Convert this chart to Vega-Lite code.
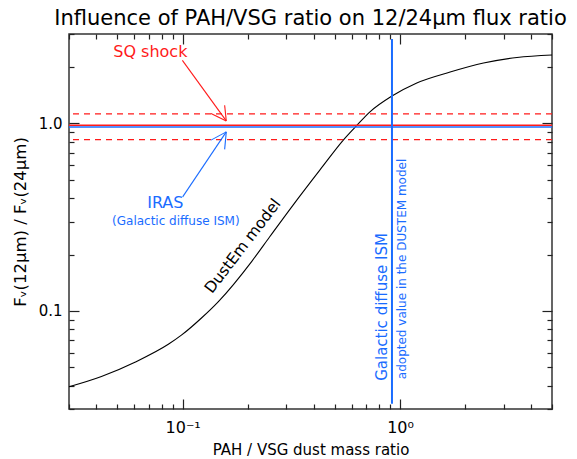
{
  "$schema": "https://vega.github.io/schema/vega-lite/v6.json",
  "width": 483,
  "height": 375,
  "autosize": "none",
  "padding": {"left": 69, "top": 34, "right": 25, "bottom": 50},
  "background": "white",
  "config": {
    "view": {"stroke": "#333", "strokeWidth": 1.5},
    "font": "DejaVu Sans",
    "axis": {"grid": false, "labelColor": "black", "titleColor": "black", "tickColor": "#222", "tickWidth": 1.2, "domain": false, "labelFont": "DejaVu Sans", "titleFont": "DejaVu Sans"}
  },
  "title": {
    "text": "Influence of PAH/VSG ratio on 12/24μm flux ratio",
    "fontSize": 21,
    "fontWeight": "normal",
    "color": "black",
    "anchor": "middle",
    "offset": 4,
    "font": "DejaVu Sans"
  },
  "resolve": {"axis": {"x": "independent", "y": "independent"}},
  "layer": [
    {
      "data": {"values": [
        {"x": 0.03, "y": 0.0394},
        {"x": 0.0423, "y": 0.0447},
        {"x": 0.0603, "y": 0.0533},
        {"x": 0.0859, "y": 0.0664},
        {"x": 0.099, "y": 0.0745},
        {"x": 0.1224, "y": 0.092},
        {"x": 0.146, "y": 0.1122},
        {"x": 0.208, "y": 0.184},
        {"x": 0.251, "y": 0.248},
        {"x": 0.322, "y": 0.367},
        {"x": 0.43, "y": 0.569},
        {"x": 0.547, "y": 0.813},
        {"x": 0.631, "y": 0.973},
        {"x": 0.727, "y": 1.153},
        {"x": 0.918, "y": 1.4},
        {"x": 1.194, "y": 1.644},
        {"x": 1.7, "y": 1.88},
        {"x": 2.42, "y": 2.1},
        {"x": 3.45, "y": 2.25},
        {"x": 5.0, "y": 2.32}
      ]},
      "mark": {"type": "line", "color": "black", "strokeWidth": 1.1, "interpolate": "monotone"},
      "encoding": {
        "x": {"field": "x", "type": "quantitative",
          "scale": {"type": "log", "domain": [0.03, 5], "nice": false},
          "axis": {"orient": "bottom", "values": [0.1, 1], "labelExpr": "datum.value < 0.5 ? '10⁻¹' : '10⁰'", "offset": -10, "tickSize": 10, "labelFontSize": 16, "labelPadding": 10, "labelFlush": false, "title": "PAH / VSG dust mass ratio", "titleFontSize": 15, "titleFontWeight": "normal", "titlePadding": 7}},
        "y": {"field": "y", "type": "quantitative",
          "scale": {"type": "log", "domain": [0.03, 3], "nice": false},
          "axis": {"orient": "left", "values": [0.1, 1], "labelExpr": "datum.value < 0.5 ? '0.1' : '1.0'", "offset": -10, "tickSize": 10, "labelFontSize": 15, "labelPadding": 7, "labelFlush": false, "title": "Fᵥ(12μm) / Fᵥ(24μm)", "titleFontSize": 16.5, "titleFontWeight": "normal", "titlePadding": 10}}
      }
    },
    {
      "data": {"values": [
        {"y": 0.958, "group": "IRAS"},
        {"y": 0.978, "group": "SQ"}
      ]},
      "mark": {"type": "rule", "strokeWidth": 1.5},
      "encoding": {
        "y": {"field": "y", "type": "quantitative", "scale": {"type": "log", "domain": [0.03, 3], "nice": false}, "axis": null},
        "color": {"field": "group", "type": "nominal", "scale": {"domain": ["SQ", "IRAS", "model"], "range": ["#ff1a1a", "#1a6cff", "black"]}, "legend": null}
      }
    },
    {
      "data": {"values": [
        {"y": 1.125, "group": "SQ"},
        {"y": 0.82, "group": "SQ"}
      ]},
      "mark": {"type": "rule", "strokeWidth": 1.3, "strokeDash": [6, 5]},
      "encoding": {
        "y": {"field": "y", "type": "quantitative", "scale": {"type": "log", "domain": [0.03, 3], "nice": false}, "axis": null},
        "color": {"field": "group", "type": "nominal", "scale": {"domain": ["SQ", "IRAS", "model"], "range": ["#ff1a1a", "#1a6cff", "black"]}, "legend": null}
      }
    },
    {
      "data": {"values": [
        {"x": 0.918, "y": 0.032, "y2": 2.82}
      ]},
      "mark": {"type": "rule", "strokeWidth": 2, "color": "#1a6cff"},
      "encoding": {
        "x": {"field": "x", "type": "quantitative", "scale": {"type": "log", "domain": [0.03, 5], "nice": false},
          "axis": {"orient": "bottom", "values": [0.03, 0.04, 0.05, 0.06, 0.07, 0.08, 0.09, 0.2, 0.3, 0.4, 0.5, 0.6, 0.7, 0.8, 0.9, 2, 3, 4, 5], "labels": false, "offset": -5, "tickSize": 5, "title": null}},
        "y": {"field": "y", "type": "quantitative", "scale": {"type": "log", "domain": [0.03, 3], "nice": false},
          "axis": {"orient": "left", "values": [0.03, 0.04, 0.05, 0.06, 0.07, 0.08, 0.09, 0.2, 0.3, 0.4, 0.5, 0.6, 0.7, 0.8, 0.9, 2, 3], "labels": false, "offset": -5, "tickSize": 5, "title": null}},
        "y2": {"field": "y2"}
      }
    },
    {
      "data": {"values": [
        {"x": 0.0997, "y": 2.17, "x2": 0.1587, "y2": 1.032, "group": "SQ"},
        {"x": 0.135, "y": 1.13, "x2": 0.1587, "y2": 1.032, "group": "SQ"},
        {"x": 0.156, "y": 1.25, "x2": 0.1587, "y2": 1.032, "group": "SQ"},
        {"x": 0.1, "y": 0.406, "x2": 0.1587, "y2": 0.902, "group": "IRAS"},
        {"x": 0.135, "y": 0.815, "x2": 0.1587, "y2": 0.902, "group": "IRAS"},
        {"x": 0.156, "y": 0.727, "x2": 0.1587, "y2": 0.902, "group": "IRAS"}
      ]},
      "mark": {"type": "rule", "strokeWidth": 1.1},
      "encoding": {
        "x": {"field": "x", "type": "quantitative", "scale": {"type": "log", "domain": [0.03, 5], "nice": false},
          "axis": {"orient": "top", "values": [0.1, 1], "labels": false, "offset": -10, "tickSize": 10, "title": null}},
        "x2": {"field": "x2"},
        "y": {"field": "y", "type": "quantitative", "scale": {"type": "log", "domain": [0.03, 3], "nice": false},
          "axis": {"orient": "right", "values": [0.1, 1], "labels": false, "offset": -10, "tickSize": 10, "title": null}},
        "y2": {"field": "y2"},
        "color": {"field": "group", "type": "nominal", "scale": {"domain": ["SQ", "IRAS", "model"], "range": ["#ff1a1a", "#1a6cff", "black"]}, "legend": null}
      }
    },
    {
      "data": {"values": [
        {"x": 0.071, "y": 2.4, "label": "SQ shock", "group": "SQ"},
        {"x": 0.0832, "y": 0.375, "label": "IRAS", "group": "IRAS"}
      ]},
      "mark": {"type": "text", "fontSize": 16, "align": "center", "baseline": "middle"},
      "encoding": {
        "x": {"field": "x", "type": "quantitative", "scale": {"type": "log", "domain": [0.03, 5], "nice": false},
          "axis": {"orient": "top", "values": [0.03, 0.04, 0.05, 0.06, 0.07, 0.08, 0.09, 0.2, 0.3, 0.4, 0.5, 0.6, 0.7, 0.8, 0.9, 2, 3, 4, 5], "labels": false, "offset": -5, "tickSize": 5, "title": null}},
        "y": {"field": "y", "type": "quantitative", "scale": {"type": "log", "domain": [0.03, 3], "nice": false},
          "axis": {"orient": "right", "values": [0.03, 0.04, 0.05, 0.06, 0.07, 0.08, 0.09, 0.2, 0.3, 0.4, 0.5, 0.6, 0.7, 0.8, 0.9, 2, 3], "labels": false, "offset": -5, "tickSize": 5, "title": null}},
        "text": {"field": "label"},
        "color": {"field": "group", "type": "nominal", "scale": {"domain": ["SQ", "IRAS", "model"], "range": ["#ff1a1a", "#1a6cff", "black"]}, "legend": null}
      }
    },
    {
      "data": {"values": [
        {"x": 0.093, "y": 0.302, "label": "(Galactic diffuse ISM)", "group": "IRAS"}
      ]},
      "mark": {"type": "text", "fontSize": 12, "align": "center", "baseline": "middle", "color": "#1a6cff"},
      "encoding": {
        "x": {"field": "x", "type": "quantitative", "scale": {"type": "log", "domain": [0.03, 5], "nice": false}, "axis": null},
        "y": {"field": "y", "type": "quantitative", "scale": {"type": "log", "domain": [0.03, 3], "nice": false}, "axis": null},
        "text": {"field": "label"}
      }
    },
    {
      "data": {"values": [
        {"x": 0.189, "y": 0.222, "label": "DustEm model"}
      ]},
      "mark": {"type": "text", "fontSize": 15.5, "align": "center", "baseline": "middle", "angle": 307.5, "color": "black"},
      "encoding": {
        "x": {"field": "x", "type": "quantitative", "scale": {"type": "log", "domain": [0.03, 5], "nice": false}, "axis": null},
        "y": {"field": "y", "type": "quantitative", "scale": {"type": "log", "domain": [0.03, 3], "nice": false}, "axis": null},
        "text": {"field": "label"}
      }
    },
    {
      "data": {"values": [
        {"x": 0.823, "y": 0.105, "label": "Galactic diffuse ISM"}
      ]},
      "mark": {"type": "text", "fontSize": 15, "align": "center", "baseline": "middle", "angle": 270, "color": "#1a6cff"},
      "encoding": {
        "x": {"field": "x", "type": "quantitative", "scale": {"type": "log", "domain": [0.03, 5], "nice": false}, "axis": null},
        "y": {"field": "y", "type": "quantitative", "scale": {"type": "log", "domain": [0.03, 3], "nice": false}, "axis": null},
        "text": {"field": "label"}
      }
    },
    {
      "data": {"values": [
        {"x": 1.018, "y": 0.1675, "label": "adopted value in the DUSTEM model"}
      ]},
      "mark": {"type": "text", "fontSize": 12, "align": "center", "baseline": "middle", "angle": 270, "color": "#1a6cff"},
      "encoding": {
        "x": {"field": "x", "type": "quantitative", "scale": {"type": "log", "domain": [0.03, 5], "nice": false}, "axis": null},
        "y": {"field": "y", "type": "quantitative", "scale": {"type": "log", "domain": [0.03, 3], "nice": false}, "axis": null},
        "text": {"field": "label"}
      }
    }
  ]
}
